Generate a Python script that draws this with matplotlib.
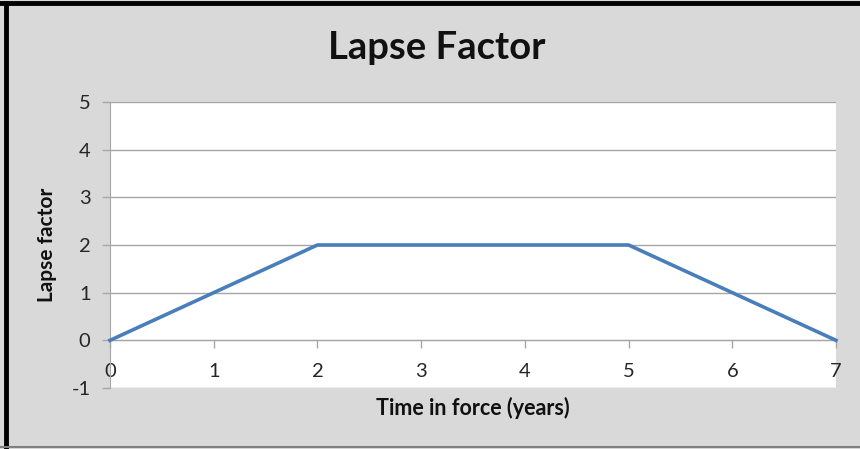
import matplotlib.pyplot as plt
from matplotlib.lines import Line2D

# data
years = [0, 2, 5, 7]
lapse = [0, 2, 2, 0]
x_ticks = [0, 1, 2, 3, 4, 5, 6, 7]
y_ticks = [-1, 0, 1, 2, 3, 4, 5]

plt.rcParams['font.family'] = ['Lato', 'DejaVu Sans']
plt.rcParams['axes.unicode_minus'] = False

fig = plt.figure(figsize=(8.6, 4.49), dpi=100, facecolor='#d9d9d9')
ax = fig.add_axes([110/860, 1 - 388/449, (836-110)/860, (388-102)/449])
ax.set_facecolor('white')

ax.plot(years, lapse, color='#4a7ebb', lw=2.6, solid_joinstyle='miter', zorder=3, clip_on=False)

ax.set_xlim(0, 7)
ax.set_ylim(-1, 5)
ax.set_xticks(x_ticks)
ax.set_yticks(y_ticks)
ax.yaxis.grid(True, color='#a6a6a6', lw=1)
ax.set_axisbelow(True)

for s in ['top', 'right']:
    ax.spines[s].set_visible(False)
ax.spines['left'].set_color('#a6a6a6')
ax.spines['bottom'].set_color('#a6a6a6')
ax.spines['bottom'].set_position(('data', 0))

ax.tick_params(axis='both', colors='#a6a6a6', labelcolor='#262626', labelsize=14.5, length=6, width=1)
ax.tick_params(axis='x', pad=10)
ax.tick_params(axis='y', pad=8)

fig.text(473/860, 1 - 408/449, 'Time in force (years)', ha='center', va='center',
         fontsize=15.5, fontweight='bold', color='#111111')
fig.text(47/860, 1 - 245/449, 'Lapse factor', ha='center', va='center', rotation=90,
         fontsize=15, fontweight='bold', color='#111111')
fig.text(437/860, 1 - 48/449, 'Lapse Factor', ha='center', va='center',
         fontsize=27.5, fontweight='bold', color='#111111')

# outer frame
fig.add_artist(Line2D([6/860, 6/860], [0, 1 - 3/449], transform=fig.transFigure, color='black', lw=3.5))
fig.add_artist(Line2D([0, 1], [1 - 3/449, 1 - 3/449], transform=fig.transFigure, color='black', lw=3.5))
fig.add_artist(Line2D([0, 1], [2/449, 2/449], transform=fig.transFigure, color='#808080', lw=1.5))

fig.savefig('out.png', dpi=100, facecolor=fig.get_facecolor())
